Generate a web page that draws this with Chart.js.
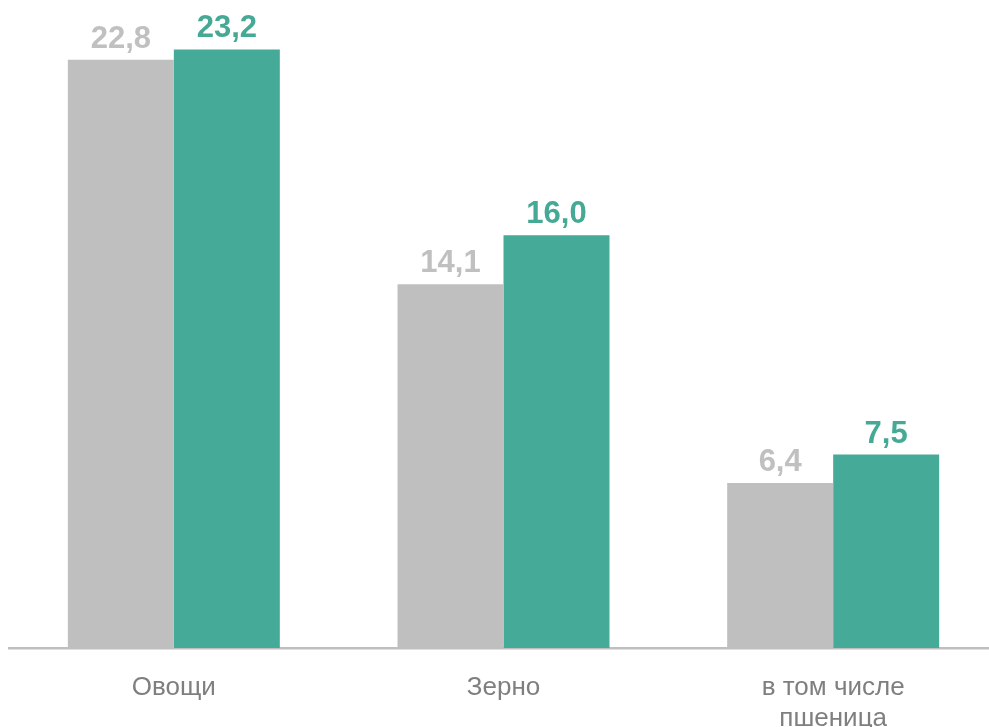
<!DOCTYPE html>
<html>
<head>
<meta charset="utf-8">
<script src="https://cdn.jsdelivr.net/npm/chart.js@4"></script>
<style>
  html, body { margin: 0; padding: 0; background: #fff; overflow: hidden; }
  #wrap { width: 998px; height: 727px; position: relative; }
</style>
</head>
<body>
<div id="wrap"><canvas id="c"></canvas></div>
<script>
const categories = ["Овощи", "Зерно", ["в том числе", "пшеница"]];
const seriesPrev = [22.8, 14.1, 6.4];
const seriesCurr = [23.2, 16.0, 7.5];
const seriesNames = ["Предыдущий", "Текущий"];

const GRAY = "#bfbfbf";
const GREEN = "#46aa98";
const FONT = "'Liberation Sans', Arial, sans-serif";

const valueLabels = {
  id: "valueLabels",
  afterDatasetsDraw(chart) {
    const ctx = chart.ctx;
    ctx.save();
    ctx.font = "bold 31px " + FONT;
    ctx.textAlign = "center";
    ctx.textBaseline = "alphabetic";
    chart.data.datasets.forEach((ds, i) => {
      const meta = chart.getDatasetMeta(i);
      ctx.fillStyle = ds.labelColor;
      meta.data.forEach((bar, j) => {
        const txt = ds.data[j].toFixed(1).replace(".", ",");
        ctx.fillText(txt, bar.x, bar.y - 12);
      });
    });
    ctx.restore();
  }
};

new Chart(document.getElementById("c"), {
  type: "bar",
  data: {
    labels: categories,
    datasets: [
      { label: seriesNames[0], data: seriesPrev, backgroundColor: GRAY, labelColor: "#c0c0c0" },
      { label: seriesNames[1], data: seriesCurr, backgroundColor: GREEN, labelColor: "#45a996" }
    ]
  },
  options: {
    responsive: true,
    maintainAspectRatio: false,
    animation: false,
    layout: { padding: { left: 9, right: 0, top: 3, bottom: 0 } },
    datasets: { bar: { categoryPercentage: 0.643, barPercentage: 1.0 } },
    plugins: { legend: { display: false }, tooltip: { enabled: false } },
    scales: {
      x: {
        grid: { display: false, drawTicks: false },
        border: { display: true, color: "#bfbfbf", width: 2.5 },
        ticks: {
          color: "#7f7f7f",
          font: { family: FONT, size: 26, lineHeight: 1.2 },
          padding: 24,
          maxRotation: 0
        },
        afterFit(scale) { scale.height = 79; }
      },
      y: {
        display: false,
        min: 0,
        max: 25
      }
    }
  },
  plugins: [valueLabels]
});
</script>
</body>
</html>
